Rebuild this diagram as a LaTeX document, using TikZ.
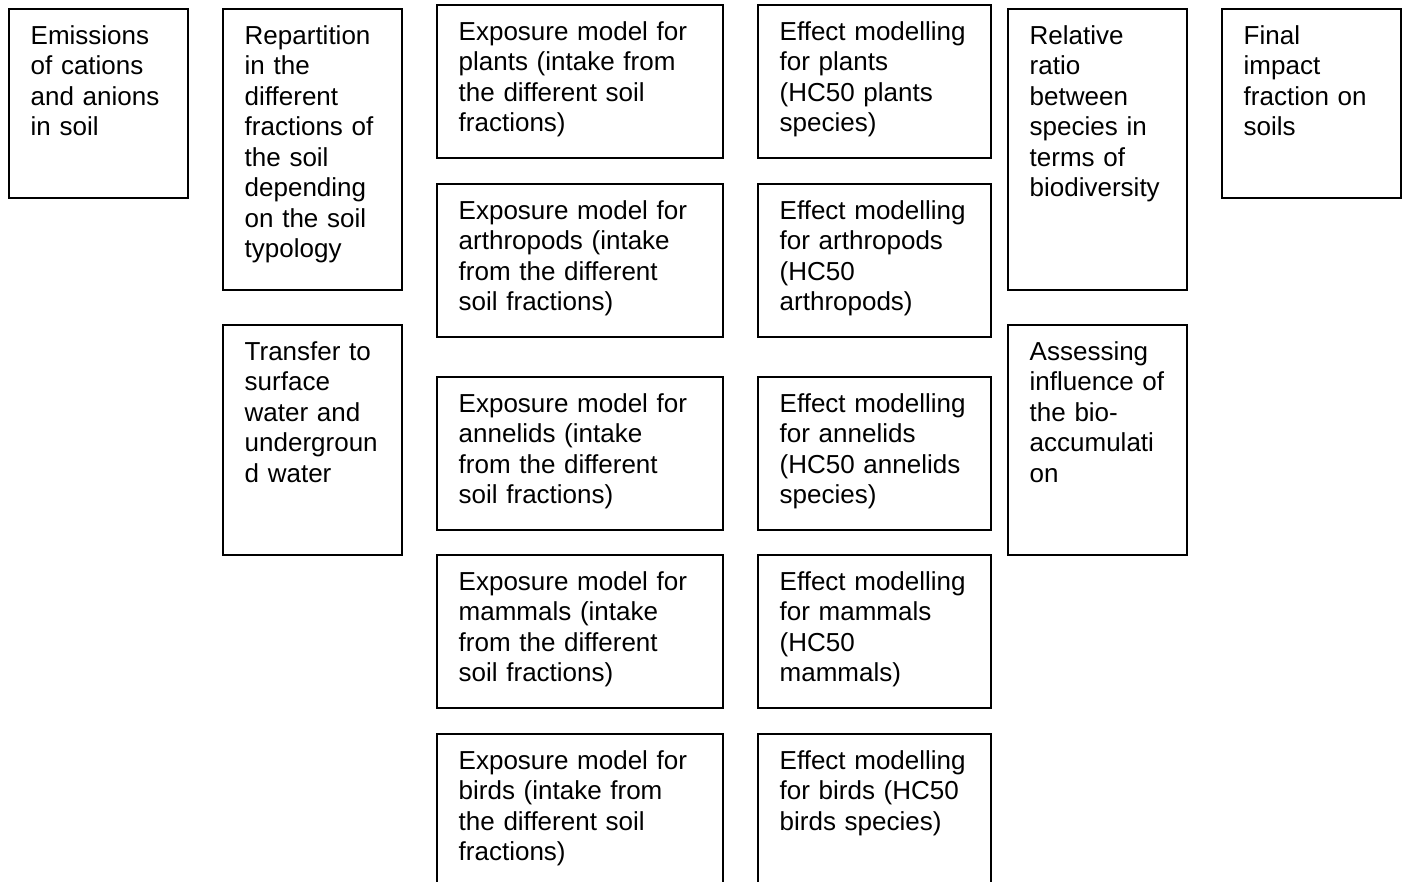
\documentclass[tikz,border=0pt]{standalone}
\usepackage{fontspec}
\setmainfont{Liberation Sans}
\begin{document}
\begin{tikzpicture}[x=1pt,y=-1pt,
    box/.style={draw,line width=1.8pt,anchor=north west,inner sep=0pt},
    lbl/.style={anchor=base west,inner sep=0pt,text width=300pt,align=left,
        font=\fontsize{26}{30.5}\selectfont}]
    \useasboundingbox (0,0) rectangle (1407,881);
    \clip (0,0) rectangle (1407,881);
    % boxes
    \node[box,minimum width=179,minimum height=189] (emis) at (8,8) {};
    \node[box,minimum width=179,minimum height=281] (repart) at (222,8) {};
    \node[box,minimum width=179,minimum height=230] (transf) at (222,324) {};
    \node[box,minimum width=286,minimum height=153] (xplant) at (436,4) {};
    \node[box,minimum width=286,minimum height=153] (xarthr) at (436,183) {};
    \node[box,minimum width=286,minimum height=153] (xannel) at (436,376) {};
    \node[box,minimum width=286,minimum height=153] (xmamm) at (436,554) {};
    \node[box,minimum width=286,minimum height=170] (xbird) at (436,733) {};
    \node[box,minimum width=233,minimum height=153] (fplant) at (757,4) {};
    \node[box,minimum width=233,minimum height=153] (farthr) at (757,183) {};
    \node[box,minimum width=233,minimum height=153] (fannel) at (757,376) {};
    \node[box,minimum width=233,minimum height=153] (fmamm) at (757,554) {};
    \node[box,minimum width=233,minimum height=170] (fbird) at (757,733) {};
    \node[box,minimum width=179,minimum height=281] (ratio) at (1007,8) {};
    \node[box,minimum width=179,minimum height=230] (assess) at (1007,324) {};
    \node[box,minimum width=179,minimum height=189] (final) at (1221,8) {};
    % texts
    \node[lbl] (emis-t) at ([shift={(22.5,36)}]emis.north west) {Emissions\\of cations\\and anions\\in soil};
    \node[lbl] (repart-t) at ([shift={(22.5,36)}]repart.north west) {Repartition\\in the\\different\\fractions of\\the soil\\depending\\on the soil\\typology};
    \node[lbl] (transf-t) at ([shift={(22.5,36)}]transf.north west) {Transfer to\\surface\\water and\\undergroun\\d water};
    \node[lbl] (xplant-t) at ([shift={(22.5,36)}]xplant.north west) {Exposure model for\\plants (intake from\\the different soil\\fractions)};
    \node[lbl] (xarthr-t) at ([shift={(22.5,36)}]xarthr.north west) {Exposure model for\\arthropods (intake\\from the different\\soil fractions)};
    \node[lbl] (xannel-t) at ([shift={(22.5,36)}]xannel.north west) {Exposure model for\\annelids (intake\\from the different\\soil fractions)};
    \node[lbl] (xmamm-t) at ([shift={(22.5,36)}]xmamm.north west) {Exposure model for\\mammals (intake\\from the different\\soil fractions)};
    \node[lbl] (xbird-t) at ([shift={(22.5,36)}]xbird.north west) {Exposure model for\\birds (intake from\\the different soil\\fractions)};
    \node[lbl] (fplant-t) at ([shift={(22.5,36)}]fplant.north west) {Effect modelling\\for plants\\(HC50 plants\\species)};
    \node[lbl] (farthr-t) at ([shift={(22.5,36)}]farthr.north west) {Effect modelling\\for arthropods\\(HC50\\arthropods)};
    \node[lbl] (fannel-t) at ([shift={(22.5,36)}]fannel.north west) {Effect modelling\\for annelids\\(HC50 annelids\\species)};
    \node[lbl] (fmamm-t) at ([shift={(22.5,36)}]fmamm.north west) {Effect modelling\\for mammals\\(HC50\\mammals)};
    \node[lbl] (fbird-t) at ([shift={(22.5,36)}]fbird.north west) {Effect modelling\\for birds (HC50\\birds species)};
    \node[lbl] (ratio-t) at ([shift={(22.5,36)}]ratio.north west) {Relative\\ratio\\between\\species in\\terms of\\biodiversity};
    \node[lbl] (assess-t) at ([shift={(22.5,36)}]assess.north west) {Assessing\\influence of\\the bio-\\accumulati\\on};
    \node[lbl] (final-t) at ([shift={(22.5,36)}]final.north west) {Final\\impact\\fraction on\\soils};
\end{tikzpicture}
\end{document}
